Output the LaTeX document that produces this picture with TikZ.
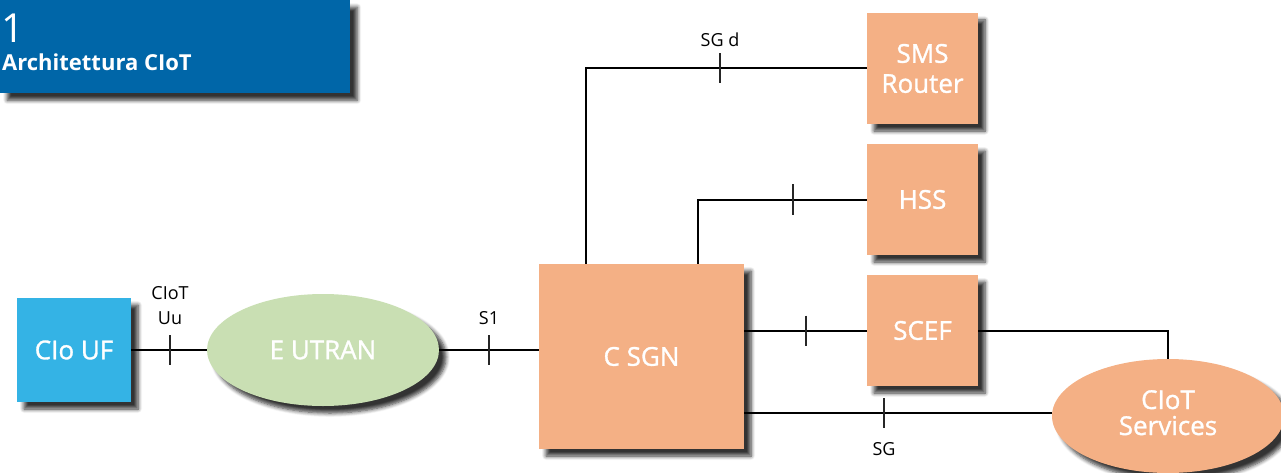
\documentclass[tikz,border=0pt]{standalone}
\usepackage{fontspec}
\setmainfont{Open Sans}
\usetikzlibrary{shapes.geometric,shadows.blur,calc}
\definecolor{titleblue}{HTML}{0066A8}
\definecolor{uecol}{HTML}{34B3E5}
\definecolor{greencol}{HTML}{C9DFB3}
\definecolor{orangecol}{HTML}{F4B085}
\tikzset{
  shad/.style={blur shadow={shadow xshift=7pt, shadow yshift=-7pt, shadow blur steps=6, shadow blur radius=4pt, shadow opacity=80}},
  box/.style={rectangle, fill=orangecol, shad, inner sep=0pt, text=white, align=center, font=\fontsize{26}{30}\selectfont\addfontfeatures{FakeBold=1.2}},
  oval/.style={ellipse, shad, inner sep=0pt, text=white, align=center, font=\fontsize{26}{30}\selectfont\addfontfeatures{FakeBold=1.2}},
  link/.style={line width=2pt, black},
  tickmark/.style={line width=2pt, black!85},
  lbl/.style={font=\fontsize{18}{21}\selectfont, text=black, inner sep=0pt, align=center},
}
\begin{document}
\begin{tikzpicture}[x=1pt,y=-1pt]
\useasboundingbox (0,0) rectangle (1281,473);
% title
\node[rectangle, fill=titleblue, shad, minimum width=350pt, minimum height=93pt, inner sep=0pt, anchor=north west] (title) at (0,0) {};
\node[anchor=base west, inner sep=0pt, text=white, font=\fontsize{40}{44}\selectfont] (num) at (1,43) {1};
\node[anchor=base west, inner sep=0pt, text=white, font=\fontsize{22}{26}\selectfont\bfseries] (ttl) at (2,71) {Architettura CIoT};
% nodes
\node[box, fill=uecol, minimum width=114pt, minimum height=104pt] (ue) at (74,350) {CIo UF};
\node[oval, fill=greencol, minimum width=232pt, minimum height=112pt] (eutran) at (323,350) {E UTRAN};
\node[box, minimum width=205pt, minimum height=185pt] (csgn) at (641.5,356.5) {C SGN};
\node[box, minimum width=111pt, minimum height=111pt] (sms) at (922.5,68.5) {SMS\\Router};
\node[box, minimum width=111pt, minimum height=111pt] (hss) at (922.5,199.5) {HSS};
\node[box, minimum width=111pt, minimum height=111pt] (scef) at (922.5,330.5) {SCEF};
\node[oval, fill=orangecol, minimum width=232pt, minimum height=114pt] (svc) at (1168,416) {\raisebox{8pt}{\begin{tabular}{@{}c@{}}CIoT\\[-4pt]Services\end{tabular}}};
% helper coordinates
\coordinate (sgdx) at (586,0);
\coordinate (hssx) at (698,0);
\coordinate (sgy) at (0,413);
% connectors
\draw[link] (ue.east) -- (eutran.west);
\draw[link] (eutran.east) -- (csgn.west |- eutran.east);
\draw[link] (csgn.north -| sgdx) |- (sms.west);
\draw[link] (csgn.north -| hssx) |- (hss.west);
\draw[link] (csgn.east |- scef.west) -- (scef.west);
\draw[link] (scef.east) -| (svc.north);
\draw[link] (csgn.east |- sgy) -- (svc.west |- sgy);
% ticks
\coordinate (t1) at (170,350);
\coordinate (t2) at (489,350);
\coordinate (t3) at (720,68.5);
\coordinate (t4) at (793,199.5);
\coordinate (t5) at (806,330.5);
\coordinate (t6) at (884,413);
\foreach \t in {t1,t2,t3,t4,t5,t6}{
  \draw[tickmark] ($(\t)+(0,-15)$) -- ($(\t)+(0,15)$);
}
% labels
\node[lbl, anchor=base] (l1) at (170,299) {CIoT};
\node[lbl, anchor=base] (l1b) at (170,324) {Uu};
\node[lbl, anchor=base] (l2) at (489,324) {S1};
\node[lbl, anchor=base] (l3) at (720,47) {SG d};
\node[lbl, anchor=base] (l6) at (884,455) {SG};
\end{tikzpicture}
\end{document}
